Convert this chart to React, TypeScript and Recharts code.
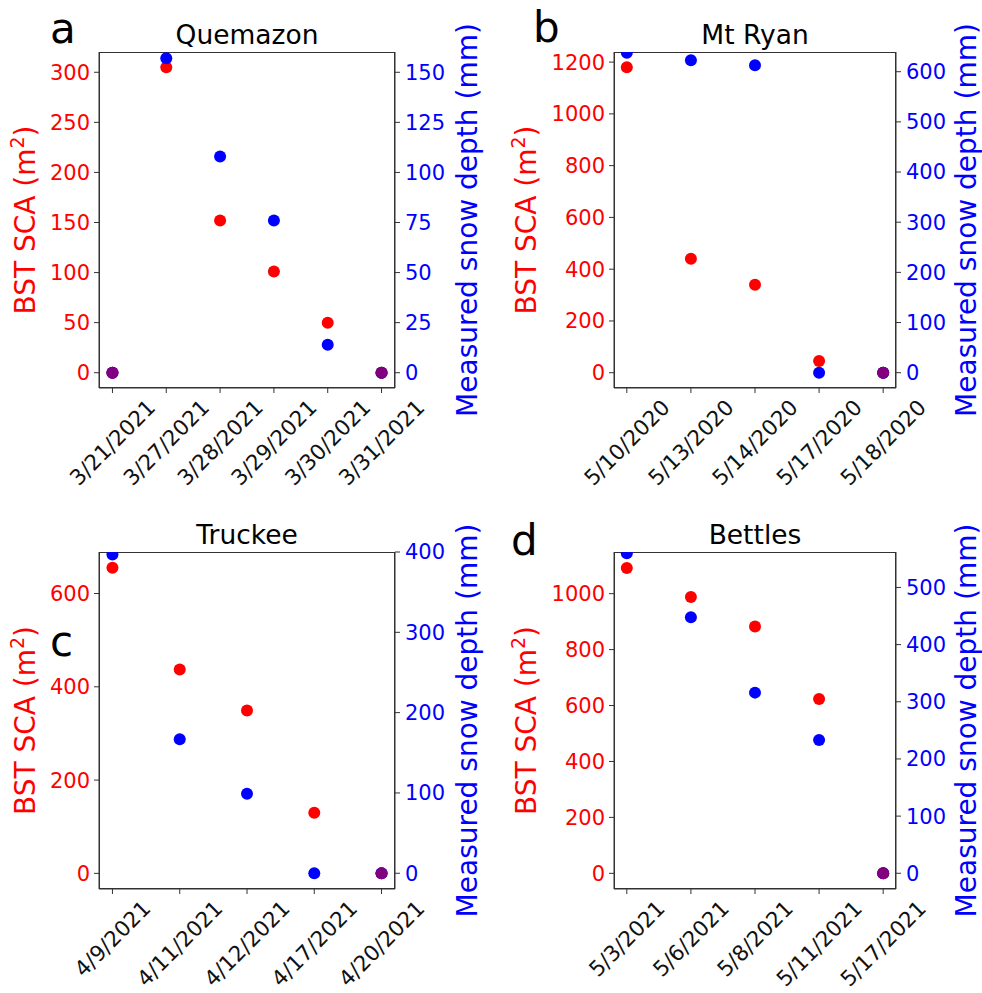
import React from 'react';
import { ScatterChart, Scatter, XAxis, YAxis } from 'recharts';

const FONT = '"DejaVu Sans", Verdana, sans-serif';
const RED = '#ff0000';
const BLUE = '#0000ff';
const PURPLE = '#800080';
const FRAME = '#333333';

// a - Quemazon
const quemazonDates = ['3/21/2021', '3/27/2021', '3/28/2021', '3/29/2021', '3/30/2021', '3/31/2021'];
const quemazonSca = [0, 305, 152, 101, 50, 0];
const quemazonDepth = [0, 157, 108, 76, 14, 0];
const quemazonScaTicks = [0, 50, 100, 150, 200, 250, 300];
const quemazonDepthTicks = [0, 25, 50, 75, 100, 125, 150];

// b - Mt Ryan
const mtRyanDates = ['5/10/2020', '5/13/2020', '5/14/2020', '5/17/2020', '5/18/2020'];
const mtRyanSca = [1180, 440, 340, 45, 0];
const mtRyanDepth = [638, 623, 613, 0, 0];
const mtRyanScaTicks = [0, 200, 400, 600, 800, 1000, 1200];
const mtRyanDepthTicks = [0, 100, 200, 300, 400, 500, 600];

// c - Truckee
const truckeeDates = ['4/9/2021', '4/11/2021', '4/12/2021', '4/17/2021', '4/20/2021'];
const truckeeSca = [655, 437, 349, 130, 0];
const truckeeDepth = [397, 167, 99, 0, 0];
const truckeeScaTicks = [0, 200, 400, 600];
const truckeeDepthTicks = [0, 100, 200, 300, 400];

// d - Bettles
const bettlesDates = ['5/3/2021', '5/6/2021', '5/8/2021', '5/11/2021', '5/17/2021'];
const bettlesSca = [1092, 988, 883, 623, 0];
const bettlesDepth = [560, 448, 316, 233, 0];
const bettlesScaTicks = [0, 200, 400, 600, 800, 1000];
const bettlesDepthTicks = [0, 100, 200, 300, 400, 500];

// rough DejaVu Sans advance widths, for centring the rotated date labels
const textWidth = (s: string, fs: number) =>
  s.split('').reduce((w, c) => w + (c === '/' ? 0.337 : 0.636), 0) * fs;

function DateTick(props: any) {
  const { x, y, payload, labels } = props;
  const label = labels[payload.value] ?? '';
  const fs = 21.5;
  const half = ((textWidth(label, fs) + fs * 0.73) * Math.SQRT1_2) / 2;
  return (
    <text
      transform={`translate(${x},${y + 5 + half}) rotate(-45)`}
      textAnchor="middle"
      dominantBaseline="central"
      fontSize={fs}
      fontFamily={FONT}
      fill="#111"
    >
      {label}
    </text>
  );
}

const dot = (color: string) => (p: any) => <circle cx={p.cx} cy={p.cy} r={6} fill={color} />;

const layoutA = { yLeftW: 99, yRightW: 96, leftLabelX: 35, rightLabelX: 477 };
const layoutB = { yLeftW: 123, yRightW: 86, leftLabelX: 45, rightLabelX: 485 };

interface PanelProps {
  title: string;
  letter: string;
  letterX: number;
  letterY: number;
  left: number;
  top: number;
  height: number;
  marginBottom: number;
  dates: string[];
  sca: number[];
  depth: number[];
  scaTicks: number[];
  depthTicks: number[];
  scaDomain: [number, number];
  depthDomain: [number, number];
  xPad: number;
  layout: typeof layoutA;
}

function Panel({
  title, letter, letterX, letterY, left, top, height, marginBottom,
  dates, sca, depth, scaTicks, depthTicks, scaDomain, depthDomain, xPad, layout,
}: PanelProps) {
  const width = 491;
  const xAxisH = 100;
  const marginTop = 52;
  const idx = dates.map((_, i) => i);
  const xDomain: [number, number] = [-xPad, dates.length - 1 + xPad];
  const scaData = idx.map((i) => ({ x: i, y: sca[i] }));
  const depthData = idx.map((i) => ({ x: i, y: depth[i] }));
  const bothZero = idx.filter((i) => sca[i] === 0 && depth[i] === 0).map((i) => ({ x: i, y: 0 }));

  const plotL = layout.yLeftW;
  const plotR = width - layout.yRightW;
  const plotB = height - marginBottom - xAxisH;
  const plotCx = (plotL + plotR) / 2;
  const plotCy = (marginTop + plotB) / 2;

  return (
    <div style={{ position: 'absolute', left, top, width, height }}>
      {/* frame under the chart so that dots sit on top of it */}
      <svg width={width} height={height} style={{ position: 'absolute', left: 0, top: 0 }}>
        <rect x={plotL + 0.5} y={marginTop + 0.5} width={plotR - plotL - 1} height={plotB - marginTop - 1} fill="none" stroke={FRAME} />
      </svg>
      <div style={{ position: 'absolute', left: 0, top: 0 }}>
        <ScatterChart width={width} height={height} margin={{ top: marginTop, right: 0, left: 0, bottom: marginBottom }}>
          <XAxis
            xAxisId="x"
            dataKey="x"
            type="number"
            domain={xDomain}
            allowDataOverflow
            ticks={idx}
            interval={0}
            height={xAxisH}
            tickSize={5}
            tickMargin={0}
            stroke={FRAME}
            tick={(p: any) => <DateTick {...p} labels={dates} />}
          />
          <YAxis
            yAxisId="sca"
            dataKey="y"
            type="number"
            orientation="left"
            width={layout.yLeftW}
            domain={scaDomain}
            allowDataOverflow
            ticks={scaTicks}
            interval={0}
            tickSize={5}
            tickMargin={4}
            stroke={FRAME}
            tick={{ fill: RED, fontSize: 21, fontFamily: FONT }}
          />
          <YAxis
            yAxisId="depth"
            dataKey="y"
            type="number"
            orientation="right"
            width={layout.yRightW}
            domain={depthDomain}
            allowDataOverflow
            ticks={depthTicks}
            interval={0}
            tickSize={5}
            tickMargin={5}
            stroke={FRAME}
            tick={{ fill: BLUE, fontSize: 21, fontFamily: FONT }}
          />
          <Scatter data={scaData} xAxisId="x" yAxisId="sca" fill={RED} shape={dot(RED)} isAnimationActive={false} />
          <Scatter data={depthData} xAxisId="x" yAxisId="depth" fill={BLUE} shape={dot(BLUE)} isAnimationActive={false} />
          <Scatter data={bothZero} xAxisId="x" yAxisId="sca" fill={PURPLE} shape={dot(PURPLE)} isAnimationActive={false} />
        </ScatterChart>
      </div>
      <svg
        width={width}
        height={height}
        style={{ position: 'absolute', left: 0, top: 0, pointerEvents: 'none' }}
        fontFamily={FONT}
      >
        <text x={plotCx} y={44} textAnchor="middle" fontSize={26.5} fill="#000">{title}</text>
        <text x={letterX} y={letterY} fontSize={42} fill="#000">{letter}</text>
        <text
          transform={`translate(${layout.leftLabelX},${plotCy}) rotate(-90)`}
          textAnchor="middle"
          fontSize={28}
          fill={RED}
        >
          BST SCA (m<tspan dy={-11} fontSize={19}>2</tspan><tspan dy={11}>)</tspan>
        </text>
        <text
          transform={`translate(${layout.rightLabelX},${plotCy}) rotate(-90)`}
          textAnchor="middle"
          fontSize={28}
          fill={BLUE}
        >
          Measured snow depth (mm)
        </text>
      </svg>
    </div>
  );
}

export default function App() {
  return (
    <div style={{ position: 'absolute', left: 0, top: 0, width: 982, height: 993, background: '#fff', overflow: 'hidden' }}>
      <Panel
        title="Quemazon" letter="a" letterX={50} letterY={43}
        left={0} top={0} height={500} marginBottom={12}
        dates={quemazonDates} sca={quemazonSca} depth={quemazonDepth}
        scaTicks={quemazonScaTicks} depthTicks={quemazonDepthTicks}
        scaDomain={[-15.25, 320.25]} depthDomain={[-7.625, 160.125]}
        xPad={0.25} layout={layoutA}
      />
      <Panel
        title="Mt Ryan" letter="b" letterX={42} letterY={42}
        left={491} top={0} height={500} marginBottom={12}
        dates={mtRyanDates} sca={mtRyanSca} depth={mtRyanDepth}
        scaTicks={mtRyanScaTicks} depthTicks={mtRyanDepthTicks}
        scaDomain={[-59, 1239]} depthDomain={[-30.5, 639.3]}
        xPad={0.2} layout={layoutB}
      />
      <Panel
        title="Truckee" letter="c" letterX={50} letterY={156}
        left={0} top={500} height={493} marginBottom={4}
        dates={truckeeDates} sca={truckeeSca} depth={truckeeDepth}
        scaTicks={truckeeScaTicks} depthTicks={truckeeDepthTicks}
        scaDomain={[-33.5, 689]} depthDomain={[-19.6, 400]}
        xPad={0.2} layout={layoutA}
      />
      <Panel
        title="Bettles" letter="d" letterX={20} letterY={55}
        left={491} top={500} height={493} marginBottom={4}
        dates={bettlesDates} sca={bettlesSca} depth={bettlesDepth}
        scaTicks={bettlesScaTicks} depthTicks={bettlesDepthTicks}
        scaDomain={[-56, 1149]} depthDomain={[-27.5, 562]}
        xPad={0.2} layout={layoutB}
      />
    </div>
  );
}
